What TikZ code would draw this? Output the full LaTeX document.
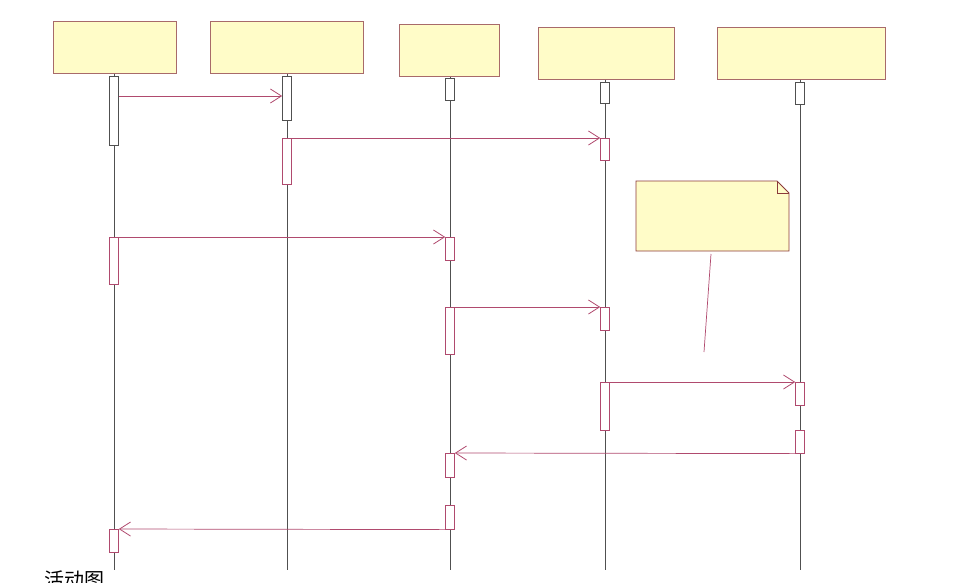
\documentclass[tikz,border=0pt]{standalone}
\usepackage{fontspec}
\newfontfamily\cjk{Noto Sans CJK SC}
\usetikzlibrary{arrows.meta,calc}
\definecolor{boxfill}{HTML}{FFFCC8}
\definecolor{boxline}{HTML}{A86A6A}
\definecolor{msgline}{HTML}{B04A6E}
\definecolor{lifeline}{HTML}{505050}
\definecolor{noteline}{HTML}{8B3A3A}
\tikzset{
  head/.style={draw=boxline, fill=boxfill, line width=0.8pt, minimum width=#1, minimum height=52pt, inner sep=0pt, anchor=north},
  bar/.style={draw=msgline, fill=white, line width=0.6pt, minimum width=9pt, minimum height=#1, inner sep=0pt, anchor=north},
  darkbar/.style={draw=lifeline, fill=white, line width=0.7pt, minimum width=9pt, minimum height=#1, inner sep=0pt, anchor=north},
  life/.style={draw=lifeline, line width=0.6pt},
  msg/.style={draw=msgline, line width=0.7pt, -{Straight Barb[length=11pt,width=14pt,line width=0.8pt]}},
}
\begin{document}
\begin{tikzpicture}[x=1pt,y=1pt]
\useasboundingbox (0,0) rectangle (966,-582);
% heads
\node[head=123pt] (h1) at (114.5,-21) {};
\node[head=153pt] (h2) at (286.5,-21) {};
\node[head=100pt] (h3) at (449,-24) {};
\node[head=136pt] (h4) at (606,-27) {};
\node[head=168pt] (h5) at (801,-27) {};
% lifeline ends
\coordinate (e1) at (114,-570);
\coordinate (e2) at (287,-570);
\coordinate (e3) at (450,-570);
\coordinate (e4) at (605,-570);
\coordinate (e5) at (800,-570);
\draw[life] (h1.south -| e1) -- (e1);
\draw[life] (h2.south -| e2) -- (e2);
\draw[life] (h3.south -| e3) -- (e3);
\draw[life] (h4.south -| e4) -- (e4);
\draw[life] (h5.south -| e5) -- (e5);
% initial activations
\node[darkbar=69pt] (a1) at (114,-76) {};
\node[darkbar=44pt] (a2) at (287,-76) {};
\node[darkbar=22pt] (a3) at (450,-78) {};
\node[darkbar=21pt] (a4) at (605,-82) {};
\node[darkbar=22pt] (a5) at (800,-82) {};
% other activations
\node[bar=46pt] (b2) at (287,-138) {};
\node[bar=22pt] (c4) at (605,-138) {};
\node[bar=47pt] (b1) at (114,-237) {};
\node[bar=23pt] (c3) at (450,-237) {};
\node[bar=47pt] (d3) at (450,-307) {};
\node[bar=23pt] (f4) at (605,-307) {};
\node[bar=48pt] (g4) at (605,-382) {};
\node[bar=23pt] (h5b) at (800,-382) {};
\node[bar=23pt] (i5) at (800,-430) {};
\node[bar=24pt] (j3) at (450,-453) {};
\node[bar=24pt] (k3) at (450,-505) {};
\node[bar=23pt] (l1) at (114,-529) {};
% messages
\draw[msg] ([yshift=-20pt]a1.north east) -- ([yshift=-20pt]a2.north west);
\draw[msg] (b2.north east) -- (c4.north west);
\draw[msg] (b1.north east) -- (c3.north west);
\draw[msg] (d3.north east) -- (f4.north west);
\draw[msg] (g4.north east) -- (h5b.north west);
\draw[msg] (i5.south west) -- (j3.north east);
\draw[msg] (k3.south west) -- (l1.north east);
% note
\coordinate (nl) at (636,-181);
\coordinate (nr) at (789,-251);
\draw[draw=noteline, fill=boxfill, line width=0.8pt]
  (636,-181) -- (777,-181) -- (789,-193) -- (789,-251) -- (636,-251) -- cycle;
\draw[draw=noteline, line width=0.6pt] (777,-181) -- (777,-193) -- (789,-193);
\coordinate (n1) at (711,-254);
\coordinate (n2) at (704,-352);
\draw[draw=msgline, line width=0.7pt] (n1) -- (n2);
% caption
\node[anchor=north west, inner sep=0pt, font=\cjk\fontsize{20}{24}\selectfont] (cap) at (44,-571) {活动图};
\end{tikzpicture}
\end{document}
